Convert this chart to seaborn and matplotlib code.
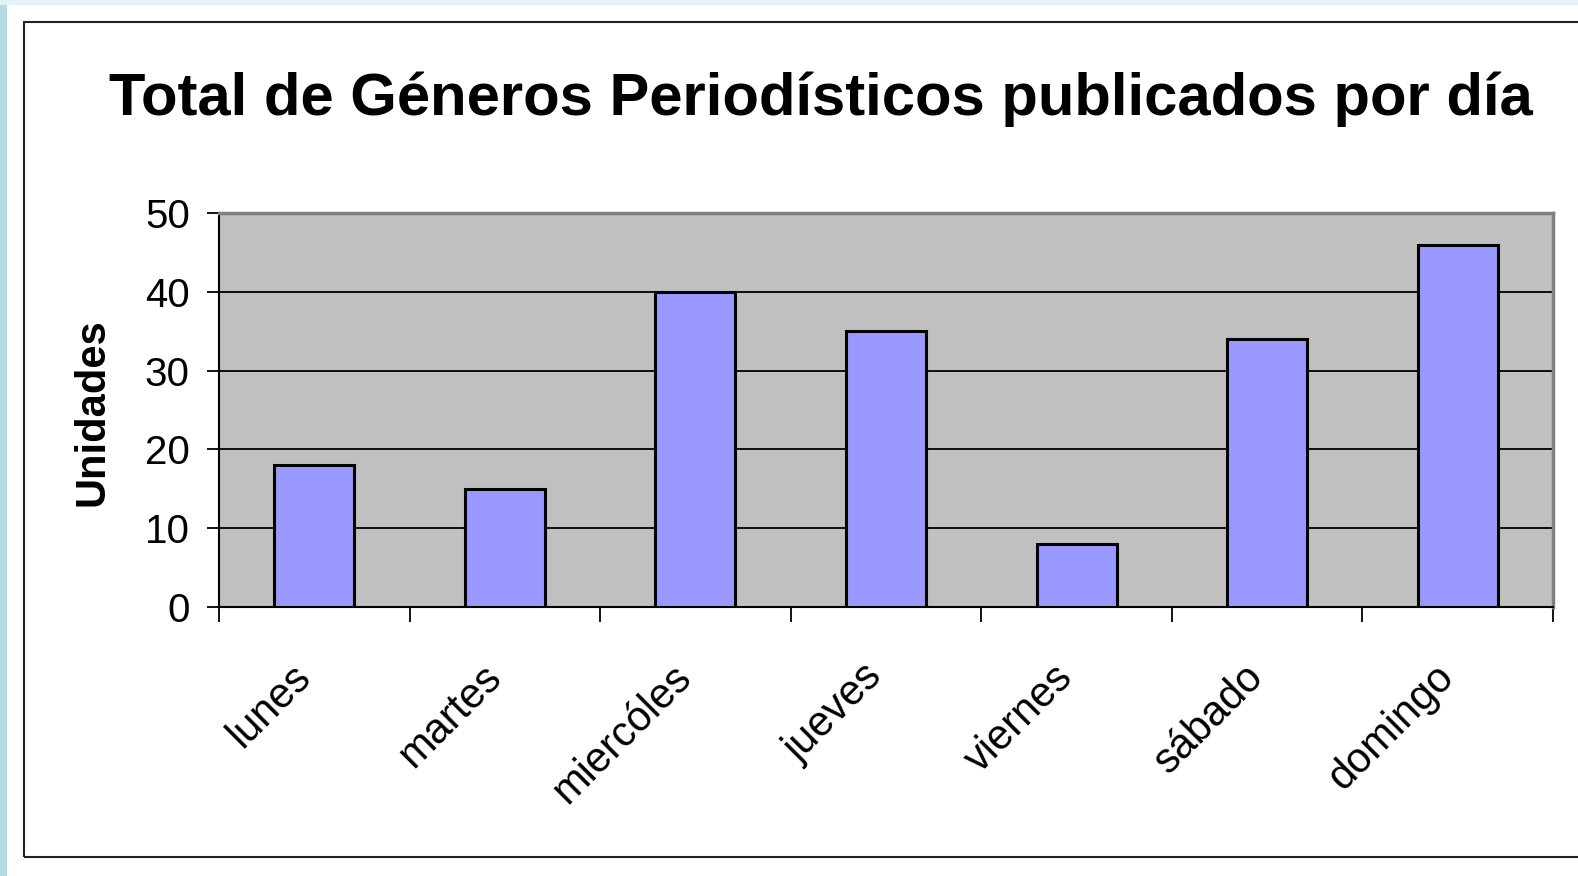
"""
plot.py – Total de géneros periodísticos publicados por día (estilo Excel)
"""
import numpy as np
import matplotlib
matplotlib.use("Agg")
import matplotlib.pyplot as plt
import matplotlib.transforms as mtransforms
from matplotlib.patches import Rectangle
import seaborn as sns

# ── Datos ─────────────────────────────────────────────────────────────────────
dias = ["lunes", "martes", "miercóles", "jueves", "viernes", "sábado", "domingo"]
unidades = [18, 15, 40, 35, 8, 34, 46]
yticks = [0, 10, 20, 30, 40, 50]

titulo = "Total de Géneros Periodísticos publicados por día"
ylabel = "Unidades"

# ── Estilo ────────────────────────────────────────────────────────────────────
sns.set_style("white")
plt.rcParams["font.family"] = ["Liberation Sans", "DejaVu Sans"]
plt.rcParams.update({"text.color": "black", "xtick.color": "black",
                     "ytick.color": "black", "axes.labelcolor": "black"})

W, H = 1578, 876
fig = plt.figure(figsize=(W / 100, H / 100), dpi=100)
fig.patch.set_facecolor("white")

# franja azul de fondo (izquierda y arriba)
fig.patches.append(Rectangle((0, 0), 7 / W, 1, transform=fig.transFigure,
                             facecolor="#b4dbe6", edgecolor="none", zorder=0))
fig.patches.append(Rectangle((0, 1 - 5 / H), 1, 5 / H, transform=fig.transFigure,
                             facecolor="#e4f2f7", edgecolor="none", zorder=0))
# marco del gráfico
fig.patches.append(Rectangle((24 / W, 1 - 857 / H), 1.2, (857 - 22) / H,
                             transform=fig.transFigure, facecolor="none",
                             edgecolor="#222222", linewidth=1.5, zorder=1))

ax = fig.add_axes([219 / W, 1 - 607 / H, (1553 - 219) / W, (607 - 213) / H])
ax.set_facecolor("#C0C0C0")

sns.barplot(x=dias, y=unidades, color="#9999FF", saturation=1,
            edgecolor="black", linewidth=2.2, width=0.42, ax=ax, zorder=3)

ax.set_xlim(-0.5, len(dias) - 0.5)
ax.set_ylim(0, 50)
ax.set_yticks(yticks)
ax.set_yticklabels([str(v) for v in yticks], fontsize=29)
ax.yaxis.grid(True, color="black", linewidth=1.3, zorder=1)
ax.set_axisbelow(True)

# etiquetas en el centro, marcas en los límites de categoría
centros = np.arange(len(dias))
ax.set_xticks(centros)
ax.set_xticklabels(dias, fontsize=30, rotation=45, ha="right",
                   rotation_mode="anchor")
ax.tick_params(axis="x", which="major", length=0, pad=36)
desplaza = mtransforms.ScaledTranslation(-24 / 100, 0, fig.dpi_scale_trans)
for lab in ax.get_xticklabels():
    lab.set_transform(lab.get_transform() + desplaza)
ax.set_xticks(np.arange(-0.5, len(dias)), minor=True)
ax.tick_params(axis="x", which="minor", length=11, width=1.3, color="black",
               direction="out", bottom=True)
ax.tick_params(axis="y", length=9, width=1.3, color="black", direction="out",
               left=True, pad=12)
ax.set_xlabel("")
ax.set_ylabel("")

for s in ["top", "right"]:
    ax.spines[s].set_color("#808080")
    ax.spines[s].set_linewidth(2.5)
for s in ["left", "bottom"]:
    ax.spines[s].set_color("black")
    ax.spines[s].set_linewidth(1.5)

fig.text(821 / W, 1 - 99 / H, titulo, ha="center", va="center",
         fontsize=43, fontweight="bold")
fig.text(92 / W, 1 - 412 / H, ylabel, ha="center", va="center",
         rotation=90, fontsize=30, fontweight="bold")

fig.savefig("out.png", dpi=100)
